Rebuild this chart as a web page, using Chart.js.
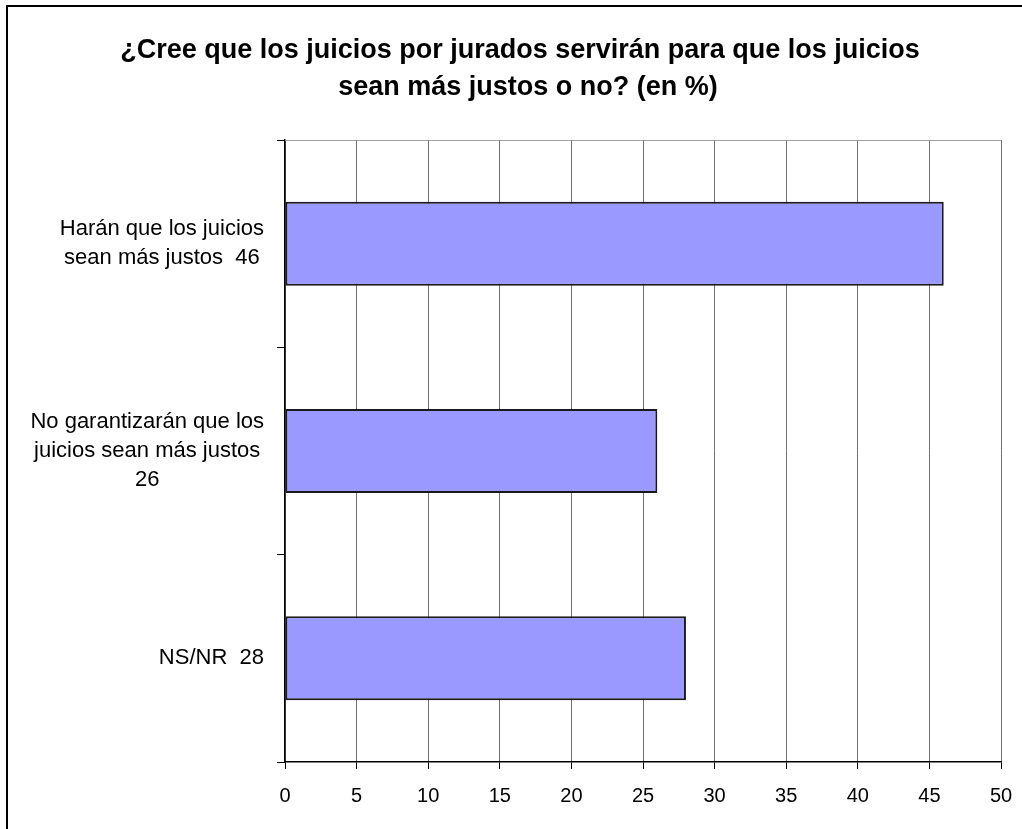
<!DOCTYPE html>
<html>
<head>
<meta charset="utf-8">
<script src="https://cdn.jsdelivr.net/npm/chart.js@4/dist/chart.umd.min.js"></script>
<style>
  html, body { margin: 0; padding: 0; background: #fff; }
  canvas { display: block; }
</style>
</head>
<body>
<canvas id="grafico" width="1022" height="829"></canvas>
<script>
// datos del gráfico
const titleLines = [
  "¿Cree que los juicios por jurados servirán para que los juicios",
  "sean más justos o no? (en %)"
];
const categories = [
  ["Harán que los juicios", "sean más justos  46"],
  ["No garantizarán que los", "juicios sean más justos", "26"],
  ["NS/NR  28"]
];
const values = [46, 26, 28];
const xTicks = [0, 5, 10, 15, 20, 25, 30, 35, 40, 45, 50];

const fontFamily = "'Liberation Sans', Arial, sans-serif";

// marco, título, borde superior y etiquetas de categoría
const decorPlugin = {
  id: "decor",
  afterDraw(chart) {
    const ctx = chart.ctx;
    const area = chart.chartArea;
    const yScale = chart.scales.y;
    ctx.save();

    // marco exterior (solo izquierda y arriba visibles)
    ctx.fillStyle = "#000";
    ctx.fillRect(6, 5, 2, 824);
    ctx.fillRect(6, 5, 1016, 2);

    // borde superior del área
    ctx.strokeStyle = "#a0a0a0";
    ctx.lineWidth = 1;
    ctx.beginPath();
    ctx.moveTo(area.left, area.top + 0.5);
    ctx.lineTo(area.right, area.top + 0.5);
    ctx.stroke();

    // título
    ctx.fillStyle = "#000";
    ctx.font = "bold 27px " + fontFamily;
    ctx.textAlign = "center";
    ctx.textBaseline = "middle";
    ctx.fillText(titleLines[0], 520, 51);
    ctx.fillText(titleLines[1], 528, 88);

    // etiquetas de categoría: bloque alineado a la derecha, líneas centradas
    ctx.font = "22px " + fontFamily;
    const lineH = 29;
    const right = 264;
    categories.forEach((lines, i) => {
      const cy = yScale.getPixelForValue(i);
      let maxW = 0;
      lines.forEach((l) => { maxW = Math.max(maxW, ctx.measureText(l).width); });
      const cx = right - maxW / 2;
      const y0 = cy - ((lines.length - 1) * lineH) / 2;
      lines.forEach((l, k) => {
        ctx.fillText(l, cx, y0 + k * lineH);
      });
    });
    ctx.restore();
  }
};

const ctx = document.getElementById("grafico");
new Chart(ctx, {
  type: "bar",
  data: {
    labels: categories,
    datasets: [{
      data: values,
      backgroundColor: "#9999ff",
      borderColor: "#1a1a1a",
      borderWidth: 2,
      borderSkipped: false,
      categoryPercentage: 1,
      barPercentage: 0.405
    }]
  },
  options: {
    indexAxis: "y",
    responsive: false,
    animation: false,
    devicePixelRatio: 1,
    layout: { padding: { top: 140, right: 21, bottom: 0, left: 0 } },
    plugins: {
      legend: { display: false },
      tooltip: { enabled: false },
      title: { display: false }
    },
    scales: {
      x: {
        min: 0,
        max: 50,
        afterBuildTicks: (scale) => {
          scale.ticks = xTicks.map((v) => ({ value: v }));
        },
        afterFit: (scale) => {
          scale.height = 67;
          scale.paddingLeft = 0;
          scale.paddingRight = 0;
        },
        grid: {
          color: "#707070",
          lineWidth: 1,
          tickLength: 7,
          tickColor: "#000"
        },
        border: { color: "#000", width: 1.5 },
        ticks: {
          color: "#000",
          padding: 15,
          font: { family: fontFamily, size: 20 }
        }
      },
      y: {
        offset: true,
        afterFit: (scale) => { scale.width = 285; },
        grid: {
          offset: true,
          drawOnChartArea: false,
          tickLength: 8,
          tickColor: "#000"
        },
        border: { color: "#000", width: 1.5 },
        ticks: { display: false }
      }
    }
  },
  plugins: [decorPlugin]
});
</script>
</body>
</html>
